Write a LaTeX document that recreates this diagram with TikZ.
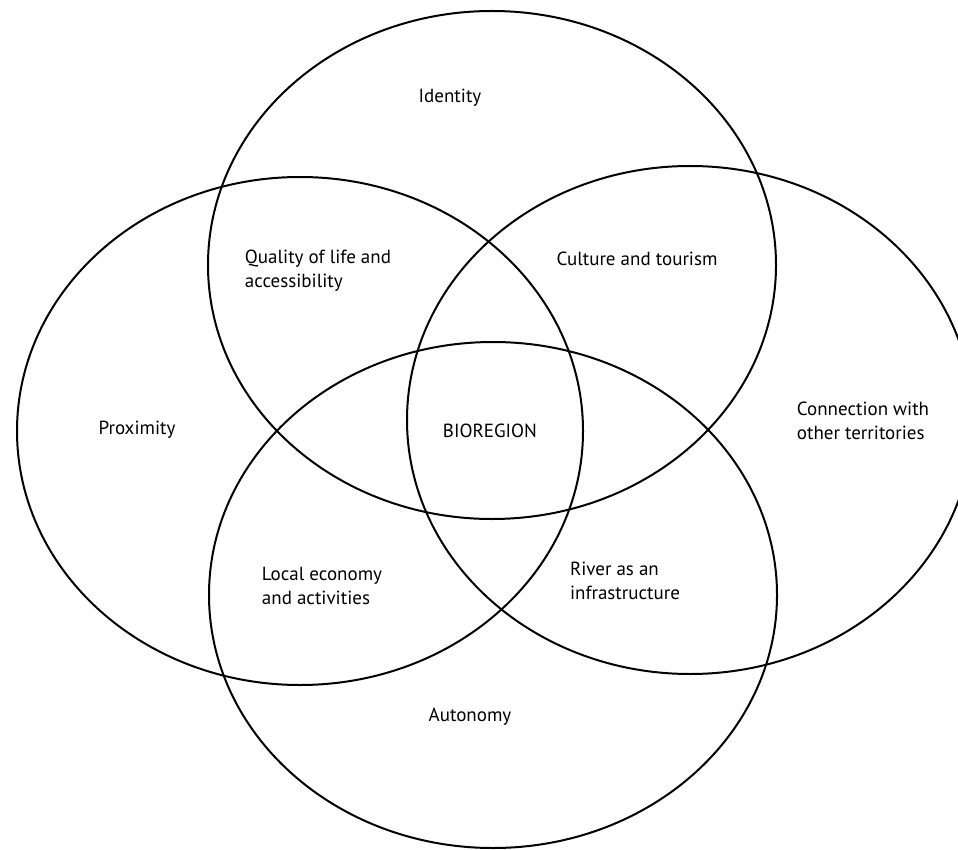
\documentclass[tikz,border=0pt]{standalone}
\usepackage{fontspec}
\setmainfont{PT Sans}
\usepackage{tikz}
\usetikzlibrary{positioning}

\begin{document}
\begin{tikzpicture}[
    x=0.5pt, y=-0.5pt,
    ring/.style={draw, line width=1pt},
    lbl/.style={font=\fontsize{9.5}{12}\selectfont, align=left, inner sep=0pt}
]
\useasboundingbox (0,0) rectangle (958,850);
% the four sets
\draw[ring] (492,265) ellipse [x radius=284, y radius=254];
\draw[ring] (300,431) ellipse [x radius=283, y radius=254];
\draw[ring] (690,420) ellipse [x radius=283, y radius=254];
\draw[ring] (493,595) ellipse [x radius=284, y radius=253];

\node[lbl] (identity) at (450,98) {Identity};
\node[lbl] (proximity) at (137,430) {Proximity};
\node[lbl] (connection) at (863,421) {Connection with\\other territories};
\node[lbl] (autonomy) at (470,717) {Autonomy};
\node[lbl] (quality) at (318,271) {Quality of life and\\accessibility};
\node[lbl] (culture) at (637,259) {Culture and tourism};
\node[lbl] (economy) at (322,586) {Local economy\\and activities};
\node[lbl] (river) at (625,581) {River as an\\infrastructure};
\node[lbl] (bioregion) at (490,431) {BIOREGION};
\end{tikzpicture}
\end{document}
